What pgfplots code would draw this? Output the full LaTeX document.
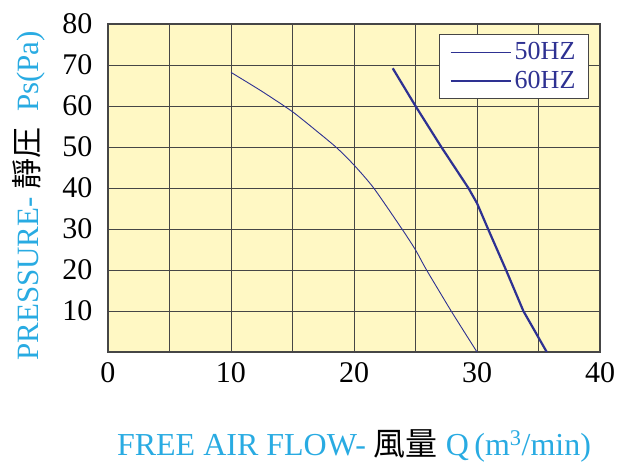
\documentclass[border=0pt]{standalone}
\usepackage{pgfplots}
\pgfplotsset{compat=1.18}
\usepackage{fontspec}
\setmainfont{Liberation Serif}
\newfontfamily\cjk{Noto Sans CJK TC}
\definecolor{bgy}{RGB}{255,248,196}
\definecolor{lblue}{RGB}{46,49,146}
\definecolor{cyanl}{RGB}{41,171,226}
\definecolor{gridc}{RGB}{70,70,70}
\begin{document}
\begin{tikzpicture}
\useasboundingbox (-108pt,-111pt) rectangle (511pt,352pt);
\begin{axis}[
  scale only axis, width=492pt, height=328pt,
  xmin=0, xmax=40, ymin=0, ymax=80,
  axis background/.style={fill=bgy},
  axis line style={gridc, line width=1.2pt},
  xtick={0,5,...,40}, xticklabels={0,,10,,20,,30,,40},
  ytick={10,20,...,80},
  extra y ticks={0}, extra y tick labels={},
  major tick length=0pt,
  grid=major,
  grid style={gridc, line width=0.9pt},
  /pgf/number format/assume math mode=true,
  tick label style={font=\fontsize{30}{32}\selectfont, black},
  xticklabel style={yshift=-7pt},
  yticklabel style={xshift=-12pt},
  xlabel={\textcolor{cyanl}{FREE AIR FLOW-} {\cjk 風量} \textcolor{cyanl}{Q\,(m\textsuperscript{3}/min)}},
  xlabel style={at={(axis description cs:0.5,0)}, anchor=base, yshift=-103pt, font=\fontsize{32}{34}\selectfont},
  ylabel={\textcolor{cyanl}{PRESSURE-} {\cjk 靜圧}\ \ \textcolor{cyanl}{Ps(Pa)}},
  ylabel style={at={(axis description cs:-0.142,0.476)}, anchor=base, rotate=0, font=\fontsize{31}{33}\selectfont},
  legend style={at={(rel axis cs:1,1)}, anchor=north east, xshift=-11pt, yshift=-10pt,
    draw=gridc, line width=1.2pt, fill=white, font=\fontsize{26}{28}\selectfont, text=lblue,
    inner xsep=10pt, inner ysep=6pt, row sep=6pt,
    nodes={inner xsep=3pt}},
  legend cell align=left,
  legend image code/.code={\draw[#1] (0pt,0pt) -- (60pt,0pt);},
]
\addplot[lblue, line width=0.9pt, smooth, tension=0.4] coordinates {
 (10,68.2) (12.5,63.6) (15,58.6) (17,53.8) (18.6,49.8) (20,45.6) (21.6,40) (23.9,30) (25,24.9) (25.9,20) (27.9,10) (30,0)};
\addlegendentry{50HZ}
\addplot[lblue, line width=2.2pt] coordinates {
 (23.15,69.2) (25,60) (27.1,50) (29.3,40) (30,36.3) (30.9,30) (32.36,20) (33.77,10) (35.67,0)};
\addlegendentry{60HZ}
\end{axis}
\end{tikzpicture}
\end{document}
